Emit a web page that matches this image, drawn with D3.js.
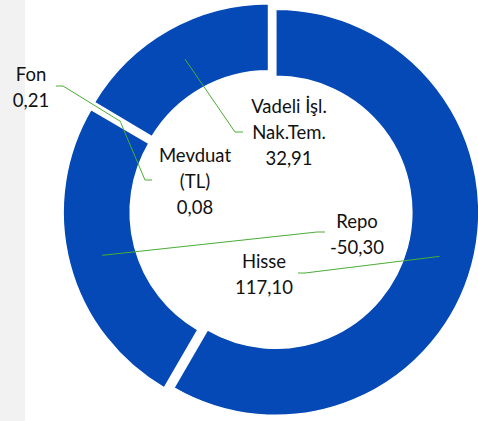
<!DOCTYPE html>
<html>
<head>
<meta charset="utf-8">
<script src="https://cdn.jsdelivr.net/npm/d3@7"></script>
<style>
  body { margin: 0; background: #fff; }
  svg text { font-family: Lato, "Noto Sans", sans-serif; font-size: 18.5px; fill: #111; }
</style>
</head>
<body>
<div class="D3"></div>
<script>
// data (slice order = clockwise from 12 o'clock)
var categories = ["Hisse", "Repo", "Mevduat\n(TL)", "Fon", "Vadeli İşl.\nNak.Tem."];
var values = [117.10, -50.30, 0.08, 0.21, 32.91];

// chart size
var svgWidth = 478;
var svgHeight = 421;

// ring geometry
var cx = 271, cy = 211;
var outerR = 203, innerR = 136;
var explode = 5;

// label layout: text centre / first baseline, and leader line start + elbow
var labelLayout = [
  { x: 264, y: 268, start: [298, 273], elbow: [305, 273] },
  { x: 357, y: 228, start: [325, 232], elbow: [317, 232] },
  { x: 195, y: 162, start: [152, 180], elbow: [145, 180] },
  { x: 31,  y: 81,  start: [56, 86],   elbow: [63, 86] },
  { x: 289, y: 113, start: [243, 132], elbow: [235, 132] }
];

var trLocale = d3.formatLocale({ decimal: ",", thousands: ".", grouping: [3], currency: ["", " ₺"], minus: "-" });
var fmt = trLocale.format(".2f");

var svg = d3.select(".D3")
  .append("svg")
  .attr("width", svgWidth)
  .attr("height", svgHeight);

// light grey strip on the left edge
svg.append("rect")
  .attr("x", 0).attr("y", 0)
  .attr("width", 25).attr("height", svgHeight)
  .attr("fill", "#f2f2f2");

var rows = categories.map(function (c, i) {
  return { name: c, value: values[i], layout: labelLayout[i] };
});

// excel draws the negative value by its size
var pie = d3.pie()
  .sort(null)
  .value(function (d) { return Math.abs(d.value); });

var arc = d3.arc()
  .innerRadius(innerR)
  .outerRadius(outerR);

var arcs = pie(rows);

// offset of each slice along its bisector
function shift(d) {
  var a = (d.startAngle + d.endAngle) / 2;
  return [Math.sin(a) * explode, -Math.cos(a) * explode];
}

var chartGroup = svg.append("g")
  .attr("transform", `translate(${cx}, ${cy})`);

chartGroup.selectAll("path.slice")
  .data(arcs)
  .enter()
  .append("path")
  .attr("class", "slice")
  .attr("transform", function (d) { var s = shift(d); return `translate(${s[0]}, ${s[1]})`; })
  .attr("d", arc)
  .attr("fill", "#0449b5")
  .attr("stroke", "#fff")
  .attr("stroke-width", 1.5);

// leader lines go to the middle of the ring
var line = d3.line();
svg.selectAll("path.leader")
  .data(arcs)
  .enter()
  .append("path")
  .attr("class", "leader")
  .attr("d", function (d) {
    var c = arc.centroid(d), s = shift(d);
    var target = [cx + c[0] + s[0], cy + c[1] + s[1]];
    return line([d.data.layout.start, d.data.layout.elbow, target]);
  })
  .attr("fill", "none")
  .attr("stroke", "#4aad35")
  .attr("stroke-width", 1);

// labels: name lines then value
var labels = svg.selectAll("text.lbl")
  .data(arcs)
  .enter()
  .append("text")
  .attr("class", "lbl")
  .attr("text-anchor", "middle");

labels.each(function (d) {
  var t = d3.select(this);
  var lines = d.data.name.split("\n").concat([fmt(d.data.value)]);
  lines.forEach(function (s, i) {
    t.append("tspan")
      .attr("x", d.data.layout.x)
      .attr("y", d.data.layout.y + i * 26)
      .text(s);
  });
});
</script>
</body>
</html>
